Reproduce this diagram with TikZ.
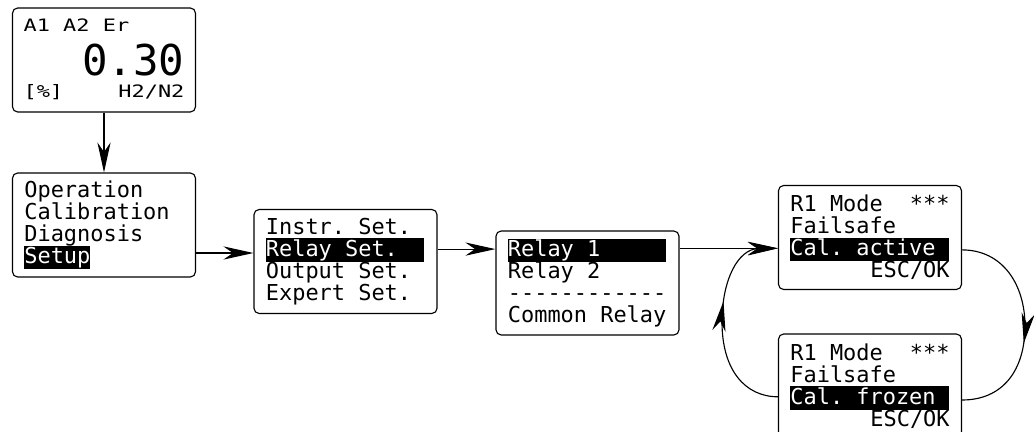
\documentclass[tikz,border=0pt]{standalone}
\usepackage{fontspec}
\usepackage{graphicx}
\usetikzlibrary{arrows.meta,decorations.markings}
\newfontfamily\lcdfont{DejaVu Sans Mono}
% display font: every space one full character cell wide
\newcommand\lcd{\lcdfont\fontsize{15.6}{15.65}\selectfont\frenchspacing
  \spaceskip=0.602em\relax\xspaceskip=0.602em\relax\lineskiplimit=-20pt}
% selected menu line, white on black
\newcommand\invert[1]{{\setlength{\fboxsep}{0pt}\colorbox{black}{\rule[-0.24em]{0pt}{1.06em}\textcolor{white}{#1}}}}
\newcommand\squash[1]{\scalebox{1}[0.78]{#1}}
\newcommand\dashrow{-{}-{}-{}-{}-{}-{}-{}-{}-{}-{}-{}-}

\begin{document}
\begin{tikzpicture}[x=0.025cm,y=-0.025cm,line width=0.8pt,
    >={Stealth[length=7.5mm,width=3.3mm,inset=2.4mm]},
    screen/.style={draw,rounded corners=1.3mm,minimum width=4.575cm,minimum height=2.6cm,
      text width=3.98cm,align=flush left,inner sep=0pt,font=\lcd},
    lcdtext/.style={inner sep=0pt,font=\lcd},
    midtip/.style={postaction={decorate},
      decoration={markings,mark=at position #1 with {\arrow{>}}}}]
  \useasboundingbox (0,0) rectangle (1034,432);
  \clip (0,0) rectangle (1034,432);

  % measuring display
  \node[screen] (display) at (104,60) {};
  \node[lcdtext,anchor=base west] (alarms) at (23,32) {\squash{A1 A2 Er}};
  \node[lcdtext,anchor=base east] (value) at (185,76) {\fontsize{30.2}{30}\selectfont 0.30};
  \node[lcdtext,anchor=base west] (unit) at (23,98) {\squash{[\%]}};
  \node[lcdtext,anchor=base east] (gas) at (185,98) {\squash{H2/N2}};

  % menus
  \node[screen] (main) at (104,225) {Operation\\Calibration\\Diagnosis\\\invert{Setup}};
  \node[screen] (setmenu) at (345.5,261.5) {Instr. Set.\\\invert{Relay Set.\ \ }\\Output Set.\\Expert Set.};
  \node[screen] (relays) at (587.5,283) {\invert{Relay 1\ \ \ \ \ }\\Relay 2\\\dashrow\\Common Relay};
  \node[screen] (active) at (870,237.5) {R1 Mode\hfill ***\\Failsafe\\\invert{Cal. active\ }\\\hfill ESC/OK};
  \node[screen] (frozen) at (870,386) {R1 Mode\hfill ***\\Failsafe\\\invert{Cal. frozen\ }\\\hfill ESC/OK};

  \coordinate (setup out) at ([yshift=-7mm]main.east);
  \coordinate (relay out) at ([yshift=3.1mm]setmenu.east);
  \coordinate (active in) at ([yshift=-2.7mm]active.west);
  \coordinate (active out) at ([yshift=-3.1mm]active.east);
  \coordinate (frozen out) at ([yshift=-2.7mm]frozen.west);
  \coordinate (frozen in) at ([yshift=-3.5mm]frozen.east);

  \draw[->] (display) -- (main);
  \draw[->] (setup out) -- (setup out -| setmenu.west);
  \draw[->] (relay out) -- (relay out -| relays.west);
  \draw[->] (active in -| relays.east) -- (active in);

  % toggling between the two modes
  \draw[->,midtip=0.6] (frozen out) .. controls (745,396.7) and (722,370) .. (722,322)
    .. controls (722,280) and (738,249) .. (active in);
  \draw[midtip=0.58] (active out) .. controls (1003,250) and (1025,285) .. (1025,326)
    .. controls (1025,370) and (1003,400) .. (frozen in);
\end{tikzpicture}
\end{document}
